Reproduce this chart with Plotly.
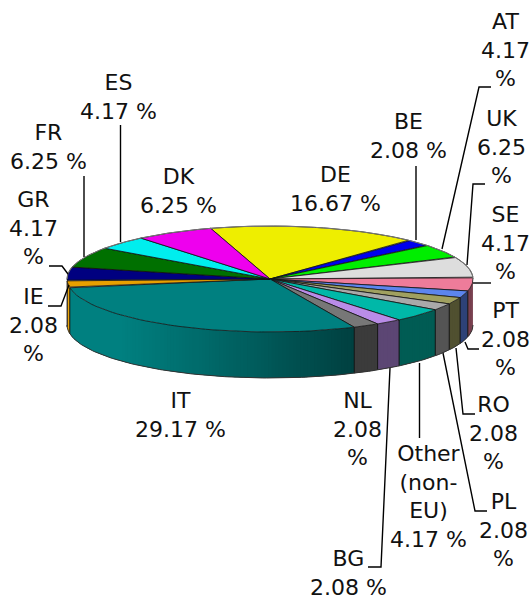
import numpy as np
import plotly.graph_objects as go

# Data, clockwise from the back of the pie
categories = ["DE", "BE", "AT", "UK", "SE", "PT", "RO", "PL", "Other (non-EU)",
              "BG", "NL", "IT", "IE", "GR", "FR", "ES", "DK"]
shares = [16.67, 2.08, 4.17, 6.25, 4.17, 2.08, 2.08, 2.08, 4.17,
          2.08, 2.08, 29.17, 2.08, 4.17, 6.25, 4.17, 6.25]
label_texts = ["DE<br>16.67 %", "BE<br>2.08 %", "AT<br>4.17<br>%", "UK<br>6.25<br>%",
               "SE<br>4.17<br>%", "PT<br>2.08<br>%", "RO<br>2.08<br>%", "PL<br>2.08<br>%",
               "Other<br>(non-<br>EU)<br>4.17 %", "BG<br>2.08 %", "NL<br>2.08<br>%",
               "IT<br>29.17 %", "IE<br>2.08<br>%", "GR<br>4.17<br>%", "FR<br>6.25 %",
               "ES<br>4.17 %", "DK<br>6.25 %"]

# Styles and layout (pixel space)
colors = ["#eeee00", "#0000ee", "#00ee00", "#dddddd", "#ee7c9a", "#5c85ee", "#a0a060",
          "#a9a9a9", "#00b8a8", "#b98ce8", "#777777", "#008080", "#e8a000", "#000080",
          "#007000", "#00eeee", "#ee00ee"]
label_pos = [(335, 189), (408, 136), (505, 50), (501, 147), (505, 243), (505, 339),
             (493, 433), (503, 530), (428, 496), (348, 573), (357, 429), (180, 415),
             (33, 325), (33, 228), (48, 147), (118, 97), (178, 191)]
leaders = [
    [(120.5, 125), (120.5, 242)],
    [(84, 176), (84, 257)],
    [(49, 266), (62, 266), (68, 274)],
    [(48, 306), (61, 306), (69, 285)],
    [(416, 166), (416, 240)],
    [(491, 87), (479, 87), (442, 249)],
    [(485, 184), (473, 184), (467, 265)],
    [(473, 283), (491, 283)],
    [(465, 342), (468, 349), (479, 349)],
    [(456, 348), (463, 414), (475, 414)],
    [(443, 353), (475, 511), (487, 511)],
    [(419.5, 363), (419.5, 438)],
    [(390, 368), (381, 567), (368, 567)],
]
CX, CY, RX, RY, DEPTH = 270, 279, 203, 53, 46
START_DEG = -17


def pt(deg, dy=0.0):
    r = np.radians(deg)
    return CX + RX * np.sin(r), CY - RY * np.cos(r) + dy


def shade(color, x):
    f = 1 - 0.5 * np.clip((x - 120) / (357 - 120), 0, 1)
    c = [int(color[i:i + 2], 16) for i in (1, 3, 5)]
    return "rgb(%d,%d,%d)" % tuple(int(v * f) for v in c)


fig = go.Figure()
edges = np.cumsum([0] + shares) / sum(shares) * 360 + START_DEG

# Side wall: overlapping strips, painted in order so no seams show
for i, col in enumerate(colors):
    a0, a1 = max(edges[i], 90), min(edges[i + 1], 270)
    if a1 <= a0:
        continue
    n = max(int((a1 - a0) / 1.0), 1)
    steps = np.linspace(a0, a1, n + 1)
    for s0, s1 in zip(steps[:-1], steps[1:]):
        arc = np.linspace(s0, min(s1 + 1.0, a1) if s1 < 180 else s1, 4)
        # strips right of the front point overlap leftwards, left of it rightwards
        if s0 >= 180:
            arc = np.linspace(max(s0 - 1.0, a0), s1, 4)
        xt, yt = pt(arc)
        xb, yb = pt(arc[::-1], DEPTH)
        mid = pt((s0 + s1) / 2)[0]
        fig.add_trace(go.Scatter(
            x=np.r_[xt, xb, xt[0]], y=np.r_[yt, yb, yt[0]], mode="none", fill="toself",
            fillcolor=shade(col, mid), hoverinfo="skip", showlegend=False))

# Wall edges between slices
for a in edges:
    if 90 <= a <= 270:
        xe, ye = pt(np.array([a, a]), np.array([0, DEPTH]))
        fig.add_trace(go.Scatter(x=xe, y=ye, mode="lines", line=dict(color="#111", width=1),
                                 hoverinfo="skip", showlegend=False))

# Lower rim of the wall
arc = np.linspace(90, 270, 181)
xb, yb = pt(arc, DEPTH)
fig.add_trace(go.Scatter(x=xb, y=yb, mode="lines", line=dict(color="#333", width=1),
                         hoverinfo="skip", showlegend=False))

# Top face
for i, (cat, col) in enumerate(zip(categories, colors)):
    arc = np.linspace(edges[i], edges[i + 1], 40)
    xa, ya = pt(arc)
    fig.add_trace(go.Scatter(
        x=np.r_[CX, xa, CX], y=np.r_[CY, ya, CY], mode="lines", fill="toself", fillcolor=col,
        line=dict(color="#111", width=0.8), name=cat, showlegend=False,
        hovertemplate=f"{cat}: {shares[i]} %<extra></extra>"))

# Softer rim along the back of the top face
arc = np.linspace(-90, 90, 181)
xb, yb = pt(arc)
fig.add_trace(go.Scatter(x=xb, y=yb, mode="lines", line=dict(color="#777", width=1),
                         hoverinfo="skip", showlegend=False))

# Leader lines
for pts in leaders:
    fig.add_trace(go.Scatter(x=[p[0] for p in pts], y=[p[1] for p in pts], mode="lines",
                             line=dict(color="black", width=1.4), hoverinfo="skip",
                             showlegend=False))

for txt, (x, y) in zip(label_texts, label_pos):
    fig.add_annotation(x=x, y=y, text=txt, showarrow=False, align="center",
                       xanchor="center", yanchor="middle",
                       font=dict(family="DejaVu Sans", size=22, color="#111"))

fig.update_layout(
    width=531, height=603, margin=dict(l=0, r=0, t=0, b=0),
    paper_bgcolor="white", plot_bgcolor="white",
    xaxis=dict(range=[0, 531], visible=False, fixedrange=True),
    yaxis=dict(range=[603, 0], visible=False, fixedrange=True),
)
fig.write_html("out.html", config={"displayModeBar": False},
               post_script="document.body.style.margin='0';document.documentElement.style.overflow='hidden';")
